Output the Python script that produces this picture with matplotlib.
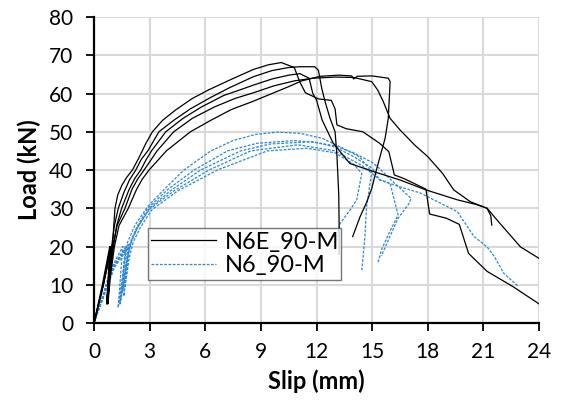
import matplotlib
matplotlib.use("Agg")
import matplotlib.pyplot as plt

plt.rcParams['font.family'] = ['Lato', 'DejaVu Sans']

# ---- N6E_90-M (black, solid) : slip (mm), load (kN)
b1_x = [0, 0.5, 0.95, 0.7, 0.8, 1.0, 1.06, 1.13, 1.28, 1.5, 1.75, 2.07, 2.4, 2.8, 3.15, 3.7, 4.4, 5.3, 6.2, 7.4, 8.6, 9.4, 10.1, 10.8, 11.1, 11.4, 12.1, 12.8, 13.0, 13.1, 13.6, 14.5, 15.4, 15.9, 16.2, 16.7, 17.9, 18.1, 19.0, 19.7, 20.2, 21.2, 22.6, 24.0]
b1_y = [0, 10, 20, 5, 12, 20, 25, 30, 33.5, 36, 38, 40, 43, 47, 50, 53, 55.7, 58.7, 61, 63.7, 66.3, 67.5, 68.1, 66.8, 63, 60.2, 58.6, 58.2, 56, 51.8, 50.8, 50, 47, 44.8, 38.7, 37.8, 35, 28.5, 27.4, 25.8, 18.2, 13.5, 9.5, 5]

b2_x = [0, 0.5, 0.9, 0.68, 0.8, 0.95, 1.1, 1.31, 1.6, 1.9, 2.25, 2.55, 2.9, 3.5, 4.3, 5.2, 6.3, 7.3, 8.6, 9.6, 10.5, 11.1, 11.9, 12.1, 12.28, 12.46, 12.73, 13.0, 13.1, 13.2, 13.22, 13.22]
b2_y = [0, 10, 20, 5, 12, 20, 25.5, 30, 34, 37.3, 40, 42.8, 45, 50, 53, 56, 59, 61.5, 64.4, 66, 66.8, 67, 67, 66.1, 61.4, 57.9, 53.5, 50, 43.9, 33.5, 25, 18]

b3_x = [0, 0.5, 0.95, 0.72, 0.85, 1.05, 1.22, 1.49, 1.9, 2.2, 2.52, 2.8, 3.1, 3.87, 4.8, 5.8, 7.0, 7.9, 8.6, 9.6, 10.5, 11.1, 11.6, 11.8, 12.0, 12.3, 12.9, 13.8, 15.07, 16.5, 17.9, 19.6, 20.6, 21.2, 21.4, 21.45]
b3_y = [0, 10, 20, 5, 12, 20, 25.5, 30, 35, 37.8, 40, 42.6, 45, 50, 53.5, 56.5, 59.5, 61, 62.2, 63.8, 64.8, 65.2, 64, 60, 58.3, 53.1, 47, 41.7, 39.6, 37.4, 34.8, 32.2, 31, 30, 28, 25.6]

b4_x = [0, 0.45, 0.85, 0.7, 0.82, 1.0, 1.25, 1.67, 2.05, 2.35, 2.7, 3.4, 4.3, 5.3, 6.5, 7.6, 8.6, 9.7, 10.8, 11.8, 13.0, 14.0, 14.98, 15.3, 15.6, 15.97, 16.5, 17.3, 18.0, 18.8, 19.4, 20.3, 21.2, 21.9, 23.0, 24.0]
b4_y = [0, 10, 20, 5.5, 12, 20, 25.5, 30, 35, 37.6, 40, 45, 50, 53.5, 56.5, 58.7, 60.2, 62, 63.3, 64, 64.3, 64.2, 63.1, 60.9, 57.9, 53.5, 50.5, 46.5, 43.5, 39.1, 34.8, 31.7, 30, 26, 19.9, 16.9]

b5_x = [0, 0.5, 0.9, 0.75, 0.88, 1.1, 1.35, 1.85, 2.3, 2.6, 2.97, 3.9, 5.2, 6.3, 7.4, 8.6, 9.6, 10.5, 11.2, 12.2, 13.2, 13.9, 14.0, 14.2, 15.0, 15.87, 15.97, 15.87, 15.7, 15.25, 14.98, 14.7, 14.35, 13.95]
b5_y = [0, 10, 20, 5, 12, 20, 25.5, 30, 35, 37.6, 40, 45, 50, 53, 55.8, 58, 60, 61.8, 63.3, 64.5, 64.8, 64.6, 63.8, 64.5, 64.6, 64, 63.1, 53.5, 48.3, 40.4, 35.2, 31.5, 27.8, 22.6]

# ---- N6_90-M (blue, dashed)
n1_x = [0, 0.9, 1.55, 1.3, 1.6, 1.8, 2.2, 2.9, 3.8, 4.85, 6.3, 7.5, 8.7, 9.9, 11.1, 12.3, 13.3, 14.3, 14.98, 14.7, 14.6, 14.44]
n1_y = [0, 14, 20, 4, 14, 21, 25.5, 30.5, 35, 40, 45, 47.7, 49.3, 49.9, 49.6, 48.3, 46, 43.5, 39.6, 30.4, 22, 13.4]

n2_x = [0, 1.0, 1.7, 1.4, 1.75, 1.95, 2.3, 2.9, 4.0, 5.4, 7.2, 8.8, 10.8, 12.0, 13.0, 14.0, 15.0, 15.4, 16.5, 17.6, 18.7, 19.6, 19.9, 20.5, 21.2, 21.6, 22.1, 22.9]
n2_y = [0, 14.5, 20, 5, 16, 21, 25, 30, 35, 40, 45, 47, 47.7, 47.2, 46, 43.5, 40.5, 37.4, 35.6, 34, 31.3, 29.1, 26.9, 22.6, 19.9, 17.3, 13, 9.5]

n3_x = [0, 1.1, 1.85, 1.55, 1.85, 2.05, 2.4, 3.0, 4.1, 5.75, 7.9, 9.5, 11.7, 13.0, 14.0, 15.0, 15.4, 16.0, 17.1, 17.0, 16.4, 15.9, 15.5]
n3_y = [0, 15, 20.5, 8.5, 18, 22, 25.5, 30, 34.5, 40, 45, 46.8, 47.4, 46.3, 44.5, 42, 40.4, 37.5, 32.6, 31.3, 27.4, 22, 17.5]

n4_x = [0, 1.0, 1.7, 1.45, 1.8, 2.0, 2.35, 3.0, 4.3, 6.2, 8.45, 11.0, 13.0, 14.5, 15.4, 15.97, 16.4, 15.9, 15.5, 15.3]
n4_y = [0, 14, 19.5, 6, 17, 21, 25, 29.8, 34.5, 40, 45, 46.6, 45, 41, 37.5, 36.5, 28.2, 23.4, 19.1, 15.5]

n5_x = [0, 1.1, 1.9, 1.6, 1.9, 2.1, 2.5, 3.1, 4.5, 6.65, 9.35, 11.5, 13.0, 14.0, 14.44, 14.17, 13.8, 13.27, 13.0]
n5_y = [0, 14.5, 20, 7, 17, 21, 25, 29.5, 34.5, 40, 45, 45.7, 44.5, 41.5, 39.1, 32.2, 29.5, 26, 20]

black_series = [(b1_x, b1_y), (b2_x, b2_y), (b3_x, b3_y), (b4_x, b4_y), (b5_x, b5_y)]
blue_series = [(n1_x, n1_y), (n2_x, n2_y), (n3_x, n3_y), (n4_x, n4_y), (n5_x, n5_y)]
legend_labels = ["N6E_90-M", "N6_90-M"]
x_ticks = [0, 3, 6, 9, 12, 15, 18, 21, 24]
y_ticks = [0, 10, 20, 30, 40, 50, 60, 70, 80]

fig = plt.figure(figsize=(5.61, 4.12), dpi=100)
ax = fig.add_axes([0.1676, 0.216, 0.7932, 0.7427])

blue = '#2B88D6'
for i, (x, y) in enumerate(blue_series):
    ax.plot(x, y, color=blue, lw=0.9, dashes=(2.2, 1.2),
            label=legend_labels[1] if i == 0 else None, zorder=3)
for i, (x, y) in enumerate(black_series):
    ax.plot(x, y, color='black', lw=0.9,
            label=legend_labels[0] if i == 0 else None, zorder=4)

ax.set_xlim(0, 24)
ax.set_ylim(0, 80)
ax.set_xticks(x_ticks)
ax.set_yticks(y_ticks)
ax.grid(True, color='#D9D9D9', lw=1.5, zorder=0)
ax.set_axisbelow(True)
for s in ['top', 'right']:
    ax.spines[s].set_visible(False)
for s in ['left', 'bottom']:
    ax.spines[s].set_linewidth(1.6)
ax.tick_params(axis='both', labelsize=15, length=6, width=1.3, direction='out')
ax.tick_params(axis='x', pad=8)
ax.tick_params(axis='y', pad=9)
ax.set_xlabel('Slip (mm)', fontsize=17, fontweight='bold', labelpad=5)
ax.set_ylabel('Load (kN)', fontsize=17, fontweight='bold', labelpad=6)

handles, labels = ax.get_legend_handles_labels()
order = [labels.index(l) for l in legend_labels]
leg = ax.legend([handles[i] for i in order], [labels[i] for i in order],
                loc='upper left', bbox_to_anchor=(0.121, 0.124, 0.434, 0.186),
                mode='expand', fontsize=17, frameon=True, fancybox=False,
                borderaxespad=0, handlelength=2.75, borderpad=0.15,
                labelspacing=0.1, handletextpad=0.35)
leg.get_frame().set_edgecolor('#555555')
leg.get_frame().set_linewidth(1.0)
leg.set_zorder(10)

fig.savefig('out.png', dpi=100)
